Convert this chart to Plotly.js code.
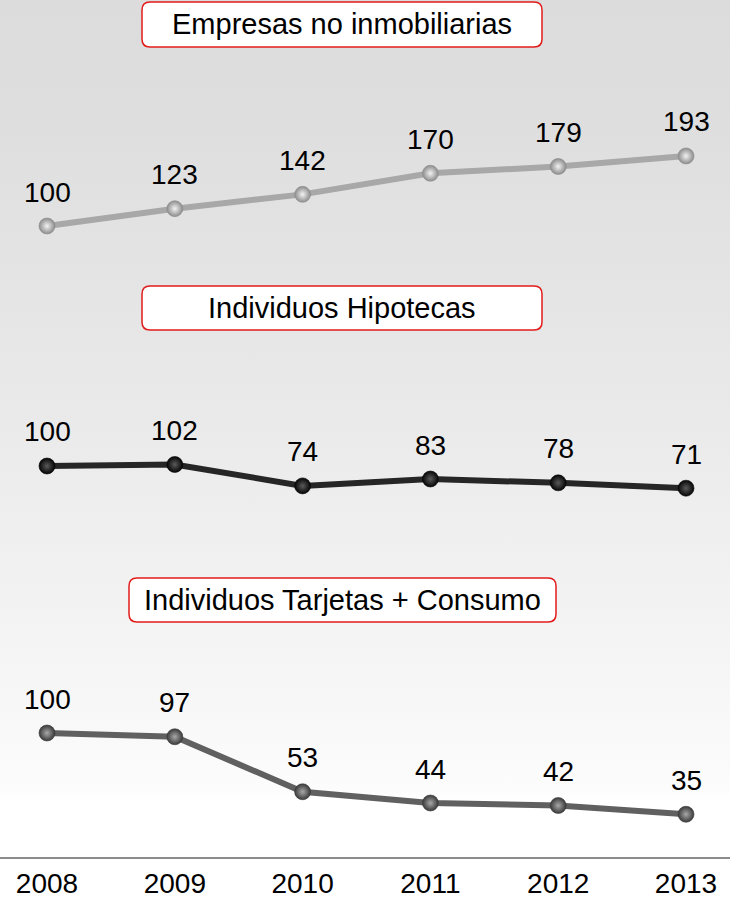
<!DOCTYPE html>
<html>
<head>
<meta charset="utf-8">
<script src="https://cdn.plot.ly/plotly-3.0.1.min.js"></script>
<style>
  html, body { margin: 0; padding: 0; background: #ffffff; }
  #chart {
    width: 730px; height: 898px;
    background: linear-gradient(to bottom, #dcdcdc 0px, #dedede 120px, #eaeaea 420px, #f6f6f6 680px, #fcfcfc 790px, #ffffff 800px, #ffffff 898px);
  }
</style>
</head>
<body>
<div id="chart"></div>
<script>
// Index values (2008 = 100) for three credit segments
const years = [2008, 2009, 2010, 2011, 2012, 2013];
const yearLabels = ['2008', '2009', '2010', '2011', '2012', '2013'];

const empresasTitle = 'Empresas no inmobiliarias';
const empresas = [100, 123, 142, 170, 179, 193];

const hipotecasTitle = 'Individuos Hipotecas';
const hipotecas = [100, 102, 74, 83, 78, 71];

const consumoTitle = 'Individuos Tarjetas + Consumo';
const consumo = [100, 97, 53, 44, 42, 35];

const W = 730, H = 898;
const FONT = 'Arial, "Liberation Sans", sans-serif';

// y-axis built from a pixel band, a reference value's pixel row and a px-per-unit scale
function bandAxis(pxTop, pxBot, refVal, refPx, pxPerUnit) {
  return {
    domain: [1 - pxBot / H, 1 - pxTop / H],
    range: [refVal - (pxBot - refPx) / pxPerUnit, refVal + (refPx - pxTop) / pxPerUnit],
    visible: false, fixedrange: true, showgrid: false, zeroline: false
  };
}

const panels = [
  { title: empresasTitle, values: empresas, axis: 'y',
    line: '#a8a8a8', mkHi: '#f2f2f2', mkEdge: '#8c8c8c',
    box: [142, 542, 2, 47] },
  { title: hipotecasTitle, values: hipotecas, axis: 'y2',
    line: '#262626', mkHi: '#5a5a5a', mkEdge: '#050505',
    box: [142, 542, 286, 330] },
  { title: consumoTitle, values: consumo, axis: 'y3',
    line: '#606060', mkHi: '#a8a8a8', mkEdge: '#3a3a3a',
    box: [129, 556, 578, 622] }
];

const traces = panels.map(p => ({
  x: years, y: p.values, yaxis: p.axis, type: 'scatter', mode: 'lines+markers',
  line: { color: p.line, width: 6 },
  marker: { size: 16, color: p.mkEdge, gradient: { type: 'radial', color: p.mkHi },
            line: { width: 0.6, color: p.mkEdge } },
  hoverinfo: 'skip', cliponaxis: false
}));

const annotations = [];
panels.forEach(p => {
  p.values.forEach((v, i) => {
    annotations.push({
      x: years[i], y: v, xref: 'x', yref: p.axis, text: String(v),
      showarrow: false, yshift: 34, font: { family: FONT, size: 28, color: '#000' }
    });
  });
  const [x0, x1, t, b] = p.box;
  annotations.push({
    x: (x0 + x1) / 2 / W, y: 1 - (t + b) / 2 / H, xref: 'paper', yref: 'paper',
    text: p.title, showarrow: false, xanchor: 'center', yanchor: 'middle',
    font: { family: FONT, size: 29, color: '#000' }
  });
});

// rounded title frames
function roundRect(x0, x1, t, b, r) {
  const X0 = x0 / W, X1 = x1 / W, Y0 = 1 - b / H, Y1 = 1 - t / H;
  const rx = r / W, ry = r / H;
  return `M ${X0 + rx},${Y1} L ${X1 - rx},${Y1} Q ${X1},${Y1} ${X1},${Y1 - ry} ` +
         `L ${X1},${Y0 + ry} Q ${X1},${Y0} ${X1 - rx},${Y0} L ${X0 + rx},${Y0} ` +
         `Q ${X0},${Y0} ${X0},${Y0 + ry} L ${X0},${Y1 - ry} Q ${X0},${Y1} ${X0 + rx},${Y1} Z`;
}
const shapes = panels.map(p => ({
  type: 'path', xref: 'paper', yref: 'paper', layer: 'below',
  path: roundRect(p.box[0], p.box[1], p.box[2], p.box[3], 8),
  fillcolor: '#ffffff', line: { color: '#e21b1b', width: 1.5 }
}));

const pxPerYear = 127.8, firstPx = 47;
const layout = {
  width: W, height: H, autosize: false,
  margin: { l: 0, r: 0, t: 0, b: 0, pad: 0 },
  paper_bgcolor: 'rgba(0,0,0,0)', plot_bgcolor: 'rgba(0,0,0,0)',
  showlegend: false,
  font: { family: FONT, color: '#000' },
  xaxis: {
    range: [years[0] - firstPx / pxPerYear, years[0] + (W - firstPx) / pxPerYear],
    tickvals: years, ticktext: yearLabels,
    tickfont: { family: FONT, size: 28, color: '#000' },
    showgrid: false, zeroline: false, ticks: '',
    showline: true, linecolor: '#8c8c8c', linewidth: 1.5,
    anchor: 'free', position: 1 - 857 / H, ticklabelstandoff: 1,
    fixedrange: true
  },
  yaxis: bandAxis(60, 270, 100, 226, 0.753),
  yaxis2: bandAxis(340, 560, 100, 466, 0.765),
  yaxis3: bandAxis(630, 850, 100, 733, 1.25),
  annotations: annotations,
  shapes: shapes
};

Plotly.newPlot('chart', traces, layout, { staticPlot: true, displayModeBar: false });
</script>
</body>
</html>
